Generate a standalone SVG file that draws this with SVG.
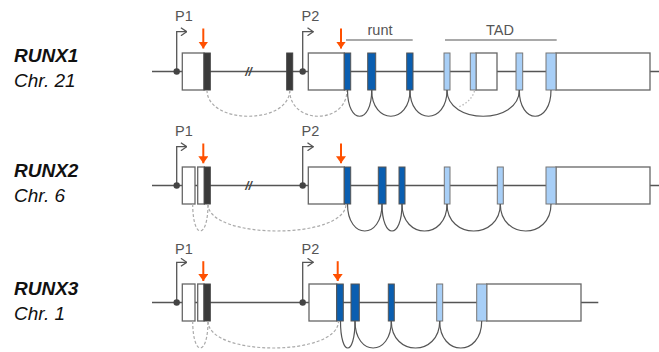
<svg xmlns="http://www.w3.org/2000/svg" width="659" height="352" viewBox="0 0 659 352">
<style>
.bg{fill:#fff}
.gene{font-family:"Liberation Sans",Arial,sans-serif;font-size:19px;font-weight:bold;font-style:italic;fill:#111}
.chr{font-family:"Liberation Sans",Arial,sans-serif;font-size:19px;font-style:italic;fill:#111}
.p{font-family:"Liberation Sans",Arial,sans-serif;font-size:14.5px;fill:#555}
.dom{font-family:"Liberation Sans",Arial,sans-serif;font-size:14.5px;fill:#555;text-anchor:middle}
.brk{font-family:"Liberation Sans",Arial,sans-serif;font-size:12px;font-weight:bold;font-style:italic;fill:#444;text-anchor:middle}
.line{stroke:#555;stroke-width:1.5;fill:none}
.utr{fill:#fff;stroke:#666;stroke-width:1.3}
.dk{fill:#3a3a3a;stroke:#444;stroke-width:1}
.bl{fill:#0a5eb0;stroke:#555;stroke-width:1}
.lb{fill:#a8cff7;stroke:#777;stroke-width:1}
.dot{fill:#444}
.prom{stroke:#555;stroke-width:1.3;fill:none;marker-end:url(#chev)}
.ora{stroke:#ff5000;stroke-width:2;fill:none;marker-end:url(#oh)}
.arc{stroke:#555;stroke-width:1.2;fill:none}
.dash{stroke:#aaa;stroke-width:1.2;fill:none;stroke-dasharray:3 2}
.dotted{stroke:#bbb;stroke-width:1.3;fill:none;stroke-dasharray:1.5 2}
.dline{stroke:#555;stroke-width:1.2}
</style>
<defs>
<marker id="chev" viewBox="0 0 7 9" refX="6.3" refY="4.5" markerWidth="7" markerHeight="9" markerUnits="userSpaceOnUse" orient="auto">
<path d="M0.5,0.5 L6.3,4.5 L0.5,8.5" fill="none" stroke="#555" stroke-width="1.3"/>
</marker>
<marker id="oh" viewBox="0 0 7 10" refX="7" refY="5" markerWidth="7" markerHeight="10" markerUnits="userSpaceOnUse" orient="auto">
<path d="M0,0 L7,5 L0,10 z" fill="#ff5000"/>
</marker>
</defs>
<rect class="bg" x="0" y="0" width="659" height="352"/>

<!-- Labels -->
<g id="label-runx1"><text class="gene" x="14" y="61.5">RUNX1</text><text class="chr" x="14" y="86.5">Chr. 21</text></g>
<g id="label-runx2"><text class="gene" x="14" y="176.5">RUNX2</text><text class="chr" x="14" y="201.5">Chr. 6</text></g>
<g id="label-runx3"><text class="gene" x="14" y="294.5">RUNX3</text><text class="chr" x="14" y="319.5">Chr. 1</text></g>

<!-- RUNX1 -->
<g id="runx1-backbone"><line class="line" x1="152" y1="71.5" x2="659" y2="71.5"/><text class="brk" x="248.5" y="75.8">//</text></g>
<g id="runx1-p1"><path class="prom" d="M176.7,71.5 V31.7 H186.7"/><circle class="dot" cx="176.7" cy="71.5" r="3.2"/><text class="p" x="175" y="21">P1</text><line class="ora" x1="203.3" y1="28.5" x2="203.3" y2="48.5"/></g>
<g id="runx1-ex1"><rect class="utr" x="182.3" y="53" width="21.7" height="37"/><rect class="dk" x="204" y="53" width="6.3" height="37"/></g>
<g id="runx1-ex2"><rect class="dk" x="286.7" y="53" width="6" height="37"/></g>
<g id="runx1-p2"><path class="prom" d="M302.7,71.5 V31.7 H313.3"/><circle class="dot" cx="302.7" cy="71.5" r="3.2"/><text class="p" x="301.5" y="21">P2</text><line class="ora" x1="341" y1="28.5" x2="341" y2="48.5"/></g>
<g id="runx1-ex3"><rect class="utr" x="308.3" y="53" width="36" height="37"/><rect class="bl" x="344.3" y="53" width="6.4" height="37"/></g>
<g id="runx1-ex4"><rect class="bl" x="367.7" y="53" width="8" height="37"/></g>
<g id="runx1-ex5"><rect class="bl" x="406.7" y="53" width="6.3" height="37"/></g>
<g id="runx1-ex6"><rect class="lb" x="444" y="53" width="6" height="37"/></g>
<g id="runx1-ex7"><rect class="utr" x="476" y="53" width="21" height="37"/><rect class="lb" x="470.3" y="53" width="5.7" height="37"/></g>
<g id="runx1-ex8"><rect class="lb" x="516" y="53" width="6.7" height="37"/></g>
<g id="runx1-ex9"><rect class="utr" x="556" y="53" width="94" height="37"/><rect class="lb" x="546" y="53" width="10" height="37"/></g>
<g id="runx1-runt"><line class="dline" x1="346" y1="40" x2="412.7" y2="40"/><text class="dom" x="380" y="35">runt</text></g>
<g id="runx1-tad"><line class="dline" x1="445" y1="40" x2="556.7" y2="40"/><text class="dom" x="500" y="35">TAD</text></g>

<!-- RUNX2 -->
<g id="runx2-backbone"><line class="line" x1="152" y1="185.5" x2="659" y2="185.5"/><text class="brk" x="248.5" y="189.8">//</text></g>
<g id="runx2-p1"><path class="prom" d="M176.7,185.5 V146.7 H186.7"/><circle class="dot" cx="176.7" cy="185.5" r="3.2"/><text class="p" x="175" y="136">P1</text><line class="ora" x1="203.3" y1="143.5" x2="203.3" y2="163.3"/></g>
<g id="runx2-ex1"><rect class="utr" x="182.3" y="167" width="12.7" height="37"/></g>
<g id="runx2-ex2"><rect class="utr" x="197.7" y="167" width="6.6" height="37"/><rect class="dk" x="204.3" y="167" width="6" height="37"/></g>
<g id="runx2-p2"><path class="prom" d="M302.7,185.5 V146.7 H313.3"/><circle class="dot" cx="302.7" cy="185.5" r="3.2"/><text class="p" x="301.5" y="136">P2</text><line class="ora" x1="341" y1="143.5" x2="341" y2="163.3"/></g>
<g id="runx2-ex3"><rect class="utr" x="308.3" y="167" width="36" height="37"/><rect class="bl" x="344.3" y="167" width="6.4" height="37"/></g>
<g id="runx2-ex4"><rect class="bl" x="378.3" y="167" width="7.7" height="37"/></g>
<g id="runx2-ex5"><rect class="bl" x="399" y="167" width="6" height="37"/></g>
<g id="runx2-ex6"><rect class="lb" x="444.3" y="167" width="5.7" height="37"/></g>
<g id="runx2-ex7"><rect class="lb" x="497.3" y="167" width="6" height="37"/></g>
<g id="runx2-ex8"><rect class="utr" x="556" y="167" width="94" height="37"/><rect class="lb" x="546" y="167" width="10" height="37"/></g>

<!-- RUNX3 -->
<g id="runx3-backbone"><line class="line" x1="152" y1="302.5" x2="598.3" y2="302.5"/></g>
<g id="runx3-p1"><path class="prom" d="M176.7,302.5 V262.3 H186.7"/><circle class="dot" cx="176.7" cy="302.5" r="3.2"/><text class="p" x="175" y="253.5">P1</text><line class="ora" x1="203.3" y1="261.2" x2="203.3" y2="281"/></g>
<g id="runx3-ex1"><rect class="utr" x="182.3" y="284" width="12.7" height="37"/></g>
<g id="runx3-ex2"><rect class="utr" x="197.7" y="284" width="6.3" height="37"/><rect class="dk" x="204" y="284" width="6.3" height="37"/></g>
<g id="runx3-p2"><path class="prom" d="M302.7,302.5 V262.3 H313.3"/><circle class="dot" cx="302.7" cy="302.5" r="3.2"/><text class="p" x="301.5" y="253.5">P2</text><line class="ora" x1="337.7" y1="261.2" x2="337.7" y2="281"/></g>
<g id="runx3-ex3"><rect class="utr" x="309" y="284" width="27.7" height="37"/><rect class="bl" x="336.7" y="284" width="6.6" height="37"/></g>
<g id="runx3-ex4"><rect class="bl" x="351" y="284" width="8.3" height="37"/></g>
<g id="runx3-ex5"><rect class="bl" x="388.3" y="284" width="6" height="37"/></g>
<g id="runx3-ex6"><rect class="lb" x="436.7" y="284" width="6" height="37"/></g>
<g id="runx3-ex7"><rect class="utr" x="486.7" y="284" width="94.3" height="37"/><rect class="lb" x="476.7" y="284" width="10" height="37"/></g>

<!-- Connectors: splicing arcs -->
<g id="connectors">
<path class="dash" d="M207,90 C207,125 289.7,125 289.7,90"/>
<path class="dash" d="M289.7,90 C289.7,125 347,125 347,90"/>
<path class="arc" d="M347.5,90 C347.5,125 371.7,125 371.7,90"/>
<path class="arc" d="M371.7,90 C371.7,125 410,125 410,90"/>
<path class="arc" d="M410,90 C410,125 447,125 447,90"/>
<path class="arc" d="M447,90 C447,125 519.3,125 519.3,90"/>
<path class="arc" d="M519.3,90 C519.3,125 551,125 551,90"/>
<path class="dotted" d="M474.5,91 C472,99 466,104 457.5,107.5"/>

<path class="dash" d="M192.7,204 C192.7,240 208,240 208,204"/>
<path class="dash" d="M208,204 C208,240 346,240 346,204"/>
<path class="arc" d="M347.5,204 C347.5,240 382,240 382,204"/>
<path class="arc" d="M382,204 C382,240 402,240 402,204"/>
<path class="arc" d="M402,204 C402,240 447,240 447,204"/>
<path class="arc" d="M447,204 C447,240 500.3,240 500.3,204"/>
<path class="arc" d="M500.3,204 C500.3,240 551,240 551,204"/>

<path class="dash" d="M192.7,321 C192.7,357 208,357 208,321"/>
<path class="dash" d="M208,321 C208,357 338.5,357 338.5,321"/>
<path class="arc" d="M340.5,321 C340.5,357 355,357 355,321"/>
<path class="arc" d="M355,321 C355,357 391.3,357 391.3,321"/>
<path class="arc" d="M391.3,321 C391.3,357 439.7,357 439.7,321"/>
<path class="arc" d="M439.7,321 C439.7,357 481.7,357 481.7,321"/>
</g>
</svg>
